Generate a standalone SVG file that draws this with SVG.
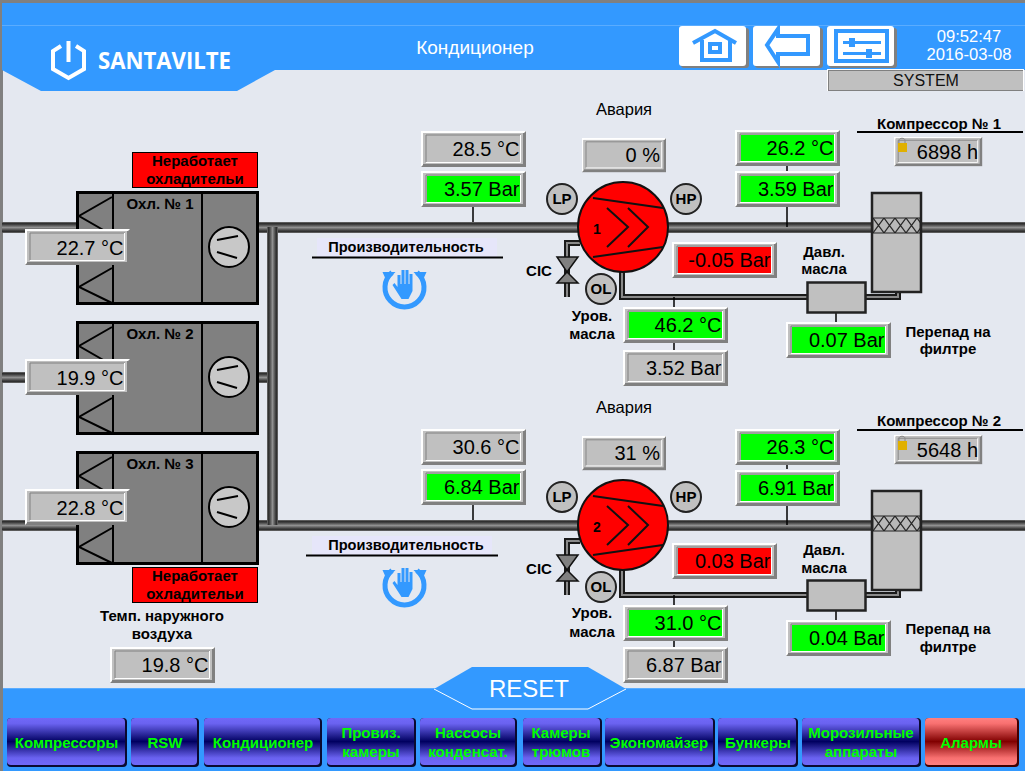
<svg xmlns="http://www.w3.org/2000/svg" xmlns:xlink="http://www.w3.org/1999/xlink" width="1025" height="771" viewBox="0 0 1025 771">
<style>
text{font-family:"Liberation Sans",Arial,sans-serif}
.v{font-size:20px;text-anchor:end;fill:#000}
.b{font-size:15px;font-weight:bold;text-anchor:middle;fill:#000}
.b2{font-size:14.600px}
.n{font-size:16.500px;text-anchor:middle;fill:#000}
.nav{font-size:15px;font-weight:bold;text-anchor:middle;fill:#00ff00}
.on{fill:#00ff00}.al{fill:#ff0000}
.blue{fill:#3399ff}
.ic{fill:none;stroke:#3399ff;stroke-width:4}
.oil{fill:none;stroke:#1a1a1a;stroke-width:6}
.oili{fill:none;stroke:#8a8a8a;stroke-width:2}
.stem{stroke:#000;stroke-width:1.500;fill:none}
.ln{stroke:#000;stroke-width:2;fill:none}
.gl{fill:#c0c0c0;stroke:#222;stroke-width:2}
.tank{fill:#c0c0c0;stroke:#222;stroke-width:2.500}
.bs{fill:#808080}.bw{fill:#fff}
.lk{fill:#e0b000}
.sh{fill:none;stroke:#888}
</style>
<defs>
<linearGradient id="pH" x1="0" y1="0" x2="0" y2="1"><stop offset="0" stop-color="#707070"/><stop offset=".15" stop-color="#2a2a2a"/><stop offset=".5" stop-color="#909090"/><stop offset=".85" stop-color="#2a2a2a"/><stop offset="1" stop-color="#707070"/></linearGradient>
<linearGradient id="pV" x1="0" y1="0" x2="1" y2="0"><stop offset="0" stop-color="#707070"/><stop offset=".15" stop-color="#2a2a2a"/><stop offset=".5" stop-color="#909090"/><stop offset=".85" stop-color="#2a2a2a"/><stop offset="1" stop-color="#707070"/></linearGradient>
<linearGradient id="nb" x1="0" y1="0" x2="0" y2="1"><stop offset="0" stop-color="#7068f8"/><stop offset=".12" stop-color="#6a62f0"/><stop offset=".5" stop-color="#000060"/><stop offset=".85" stop-color="#6a62f0"/><stop offset="1" stop-color="#7068f8"/></linearGradient>
<linearGradient id="nr" x1="0" y1="0" x2="0" y2="1"><stop offset="0" stop-color="#ff8080"/><stop offset=".12" stop-color="#f87070"/><stop offset=".5" stop-color="#800000"/><stop offset=".85" stop-color="#f87070"/><stop offset="1" stop-color="#ff8080"/></linearGradient>
<pattern id="mesh" width="11" height="14.900" patternUnits="userSpaceOnUse" x="4" y="9.400"><rect width="11" height="14.900" fill="#b8b8b8"/><path d="M0 0L11 14.900M11 0L0 14.900" stroke="#222" stroke-width="1.200"/></pattern>
<g id="vb">
<rect width="105" height="36" fill="#808080"/><path d="M0 36V0H105L103 2H2V34Z" fill="#fff"/><rect x="2" y="2" width="100" height="31" fill="#c0c0c0"/>
<path d="M5 31V4H100" fill="none" stroke="#808080"/><path d="M5 31.500H99.500V4" fill="none" stroke="#fff"/>
</g>
<g id="comp">
<circle r="45" fill="#ff0000" stroke="#111" stroke-width="2"/>
<path d="M-30-29L40-19M-30 30L40 20M-16-19L5 0L-16 20M5-19L25 0L5 20" fill="none" stroke="#111" stroke-width="2"/>
</g>
<g id="valve"><path d="M-10-15H11L0 0L11 11H-10L0 0Z" fill="#808080" stroke="#111" stroke-width="1.500"/></g>
<g id="coil">
<rect x="1.500" y="1.500" width="180" height="111" fill="#808080" stroke="#000" stroke-width="3"/>
<path d="M37 2V112M126 2V112M36 6L3 25L36 44M36 77L3 96L36 112" fill="none" stroke="#000" stroke-width="2"/>
<circle cx="153" cy="56" r="20" fill="#c8c8c8" stroke="#000" stroke-width="2"/>
<path d="M141 49L162 45M141 61L161 67" fill="none" stroke="#000" stroke-width="2"/>
</g>
<g id="hand">
<path d="M-12.500-14.500A19.500 19.500 0 1 0 12.500-14.500" fill="none" stroke="#3399ff" stroke-width="5"/>
<path d="M-22-15H-9L-18-6ZM22-15H9L18-6Z" fill="#3399ff"/>
<path d="M-7-12H-4V-3H-3V-17H0V-3H1V-17H4V-3H5V-13H8V4L4 12H-3L-12-2L-10-4L-7 0Z" fill="#3399ff"/>
</g>
</defs>

<rect width="1025" height="771" fill="#e4e8f0"/>
<path d="M0 0H1025V3H3V771H0Z" fill="#808080"/>

<g id="header">
<path class="blue" d="M2 3H1025V70H275L237 91H41L2 70Z"/>
<rect x="2" y="25" width="1023" height="1" fill="#5aacff"/>
<g id="logo">
<path d="M61 46L53 51V69L68.500 78L84 69V51L76 46" fill="none" stroke="#fff" stroke-width="4"/>
<path d="M68.500 41V62" stroke="#fff" stroke-width="4"/>
<text x="98" y="69" font-size="24" font-weight="700" fill="#fff" textLength="133" lengthAdjust="spacingAndGlyphs" style="font-family:'Open Sans',sans-serif">SANTAVILTE</text>
</g>
<text x="475" y="54" font-size="19" text-anchor="middle" fill="#fff">Кондиционер</text>
<text x="969" y="42" font-size="16.600" text-anchor="middle" fill="#fff">09:52:47</text>
<text x="969" y="60" font-size="16.600" text-anchor="middle" fill="#fff">2016-03-08</text>
</g>

<g id="btn-home"><rect x="681" y="28" width="68" height="40" rx="3" class="bs"/><rect x="679" y="26" width="67" height="40" rx="3" class="bw"/>
<path class="ic" d="M693 43L715 31L736 43M702 40V60H730V40"/><rect class="ic" x="710" y="44" width="10" height="8" stroke-width="3"/></g>
<g id="btn-back"><rect x="755" y="28" width="68" height="40" rx="3" class="bs"/><rect x="753" y="26" width="67" height="40" rx="3" class="bw"/>
<path class="ic" d="M778 29L767 45L778 62V54H808V36H778Z"/></g>
<g id="btn-set"><rect x="829" y="28" width="68" height="40" rx="3" class="bs"/><rect x="827" y="26" width="67" height="40" rx="3" class="bw"/>
<rect class="ic" x="836" y="31" width="51" height="30"/>
<path d="M843 42.500H881M843 53.500H881" stroke="#3399ff" stroke-width="3"/><rect class="blue" x="849" y="38" width="6" height="9"/><rect class="blue" x="866" y="49" width="6" height="9"/></g>
<g id="system"><rect x="827" y="69" width="197" height="22" fill="#fff"/><rect x="828" y="70" width="196" height="21" fill="#808080"/><rect x="829" y="71" width="194" height="19" fill="#c0c0c0"/><rect x="1023" y="70" width="1" height="21" fill="#fff"/><text x="926" y="86" font-size="16" text-anchor="middle" fill="#111">SYSTEM</text></g>

<g id="footer"><rect x="3" y="688" width="1022" height="83" class="blue"/>
<rect x="3" y="688" width="1022" height="1" fill="#5aacff"/></g>

<g id="connectors">
<g fill="url(#pH)">
<rect x="2" y="222" width="76" height="11"/><rect x="258" y="222" width="322" height="11"/><rect x="668" y="222" width="203" height="11"/><rect x="922" y="222" width="103" height="11"/>
<rect x="2" y="372" width="76" height="11"/><rect x="258" y="372" width="20" height="11"/>
<rect x="2" y="520" width="76" height="11"/><rect x="258" y="520" width="322" height="11"/><rect x="668" y="520" width="203" height="11"/><rect x="922" y="520" width="103" height="11"/>
</g>
<rect x="267" y="227" width="11" height="298" fill="url(#pV)"/>
<path class="oil" d="M580 243H567V297M622 270V297H807M866 297H898V292"/><path class="oili" d="M580 243H567V297M622 270V297H807M866 297H898V292"/>
<path class="oil" d="M580 541H567V595M622 568V595H807M866 595H898V590"/><path class="oili" d="M580 541H567V595M622 568V595H807M866 595H898V590"/>
<path class="stem" d="M473 207V222M787 207V227M787 166V171M674 297V307M674 343V350M836 313V322"/>
<path class="stem" d="M473 505V520M787 505V525M787 464V469M674 595V605M674 641V647M836 611V620"/>
</g>

<g id="cooler1" transform="translate(76,191)"><use href="#coil"/><text class="b" x="84" y="18">Охл. № 1</text></g>
<g id="cooler2" transform="translate(76,321)"><use href="#coil"/><text class="b" x="84" y="18">Охл. № 2</text></g>
<g id="cooler3" transform="translate(76,451)"><use href="#coil"/><text class="b" x="84" y="18">Охл. № 3</text></g>

<g id="alarm1"><rect x="132.500" y="152.500" width="125" height="35" class="al" stroke="#000"/><text class="b" x="195" y="166">Неработает</text><text class="b" x="195" y="184">охладительи</text></g>
<g id="alarm3"><rect x="132.500" y="567.500" width="125" height="35" class="al" stroke="#000"/><text class="b" x="195" y="581">Неработает</text><text class="b" x="195" y="599">охладительи</text></g>

<g id="comp1" transform="translate(623,227)"><use href="#comp"/><text x="-26" y="7" font-size="14" font-weight="bold" text-anchor="middle">1</text></g>
<g id="comp2" transform="translate(623,525)"><use href="#comp"/><text x="-26" y="7" font-size="14" font-weight="bold" text-anchor="middle">2</text></g>
<g id="valve1" transform="translate(567,272)"><use href="#valve"/></g>
<g id="valve2" transform="translate(567,570)"><use href="#valve"/></g>

<g id="sensors">
<g id="lp1"><circle class="gl" cx="562" cy="199" r="15"/><text class="b" x="562" y="204">LP</text></g>
<g id="hp1"><circle class="gl" cx="686" cy="199" r="15"/><text class="b" x="686" y="204">HP</text></g>
<g id="ol1"><circle class="gl" cx="601" cy="289" r="15"/><text class="b" x="601" y="294">OL</text></g>
<g id="lp2"><circle class="gl" cx="562" cy="497" r="15"/><text class="b" x="562" y="502">LP</text></g>
<g id="hp2"><circle class="gl" cx="686" cy="497" r="15"/><text class="b" x="686" y="502">HP</text></g>
<g id="ol2"><circle class="gl" cx="601" cy="587" r="15"/><text class="b" x="601" y="592">OL</text></g>
</g>

<g id="filter1"><rect class="tank" x="872" y="193" width="49" height="99"/><rect x="873" y="218" width="47" height="15" fill="url(#mesh)" stroke="#222"/></g>
<g id="filter2"><rect class="tank" x="872" y="491" width="49" height="99"/><rect x="873" y="516" width="47" height="15" fill="url(#mesh)" stroke="#222"/></g>
<g id="oilp1"><rect class="tank" x="807.500" y="282.500" width="58" height="30"/></g>
<g id="oilp2"><rect class="tank" x="807.500" y="580.500" width="58" height="30"/></g>

<g id="values">
<g id="v1" transform="translate(421,131)"><use href="#vb"/><text class="v" x="98.500" y="24.500">28.5 °C</text></g>
<g id="v2" transform="translate(421,171)"><use href="#vb"/><rect class="on" x="6" y="5" width="93" height="26"/><text class="v" x="98.500" y="24.500">3.57 Bar</text></g>
<g id="v3" transform="translate(735,130)"><use href="#vb"/><rect class="on" x="6" y="5" width="93" height="26"/><text class="v" x="98.500" y="24.500">26.2 °C</text></g>
<g id="v4" transform="translate(735,171)"><use href="#vb"/><rect class="on" x="6" y="5" width="93" height="26"/><text class="v" x="98.500" y="24.500">3.59 Bar</text></g>
<g id="v5" transform="translate(672,242)"><use href="#vb"/><rect class="al" x="6" y="5" width="93" height="26"/><text class="v" x="98.500" y="24.500">-0.05 Bar</text></g>
<g id="v6" transform="translate(623,307)"><use href="#vb"/><rect class="on" x="6" y="5" width="93" height="26"/><text class="v" x="98.500" y="24.500">46.2 °C</text></g>
<g id="v7" transform="translate(623,350)"><use href="#vb"/><text class="v" x="98.500" y="24.500">3.52 Bar</text></g>
<g id="v8" transform="translate(786,322)"><use href="#vb"/><rect class="on" x="6" y="5" width="93" height="26"/><text class="v" x="98.500" y="24.500">0.07 Bar</text></g>
<g id="v9" transform="translate(25,229)"><use href="#vb"/><text class="v" x="98.500" y="25.500">22.7 °C</text></g>
<g id="v10" transform="translate(25,359)"><use href="#vb"/><text class="v" x="98.500" y="25.500">19.9 °C</text></g>
<g id="v11" transform="translate(25,489)"><use href="#vb"/><text class="v" x="98.500" y="25.500">22.8 °C</text></g>
<g id="v12" transform="translate(421,429)"><use href="#vb"/><text class="v" x="98.500" y="24.500">30.6 °C</text></g>
<g id="v13" transform="translate(421,469)"><use href="#vb"/><rect class="on" x="6" y="5" width="93" height="26"/><text class="v" x="98.500" y="24.500">6.84 Bar</text></g>
<g id="v14" transform="translate(735,429)"><use href="#vb"/><rect class="on" x="6" y="5" width="93" height="26"/><text class="v" x="98.500" y="24.500">26.3 °C</text></g>
<g id="v15" transform="translate(735,470)"><use href="#vb"/><rect class="on" x="6" y="5" width="93" height="26"/><text class="v" x="98.500" y="24.500">6.91 Bar</text></g>
<g id="v16" transform="translate(672,543)"><use href="#vb"/><rect class="al" x="6" y="5" width="93" height="26"/><text class="v" x="98.500" y="24.500">0.03 Bar</text></g>
<g id="v17" transform="translate(623,605)"><use href="#vb"/><rect class="on" x="6" y="5" width="93" height="26"/><text class="v" x="98.500" y="24.500">31.0 °C</text></g>
<g id="v18" transform="translate(623,647)"><use href="#vb"/><text class="v" x="98.500" y="24.500">6.87 Bar</text></g>
<g id="v19" transform="translate(786,620)"><use href="#vb"/><rect class="on" x="6" y="5" width="93" height="26"/><text class="v" x="98.500" y="24.500">0.04 Bar</text></g>
<g id="v20" transform="translate(110,647)"><use href="#vb"/><text class="v" x="98.500" y="24.500">19.8 °C</text></g>
<g id="v21"><use href="#vb" transform="translate(582,138) scale(.8,.95)"/><text class="v" x="660" y="162">0 %</text></g>
<g id="v22"><use href="#vb" transform="translate(582,436) scale(.8,.95)"/><text class="v" x="660" y="460">31 %</text></g>
<g id="h1"><use href="#vb" transform="translate(894,137) scale(.84,.81)"/><text class="v" x="978" y="159">6898 h</text><path class="sh" d="M899 145V140.500C899 137.500 905 137.500 905 140.500V145"/><rect class="lk" x="898" y="143" width="9" height="9"/></g>
<g id="h2"><use href="#vb" transform="translate(894,435) scale(.84,.81)"/><text class="v" x="978" y="457">5648 h</text><path class="sh" d="M899 443V438.500C899 435.500 905 435.500 905 438.500V443"/><rect class="lk" x="898" y="441" width="9" height="9"/></g>
</g>

<g id="labels">
<text class="n" x="624" y="115">Авария</text><text class="n" x="624" y="413">Авария</text>
<text class="b" x="939" y="129">Компрессор № 1</text><path class="ln" d="M857 132H1023" stroke-width="1.500"/>
<text class="b" x="939" y="426">Компрессор № 2</text><path class="ln" d="M857 430H1023" stroke-width="1.500"/>
<rect x="317" y="238" width="180" height="19" fill="#e6e6fa"/><text class="b b2" x="406" y="252">Производительность</text><path class="ln" d="M312 257.500H503" stroke-width="1"/>
<rect x="312" y="536" width="180" height="19" fill="#e6e6fa"/><text class="b b2" x="406" y="550">Производительность</text><path class="ln" d="M306 555.500H498" stroke-width="1"/>
<text class="b" x="539" y="276">CIC</text><text class="b" x="539" y="574">CIC</text>
<text class="b" x="592" y="321">Уров.</text><text class="b" x="592" y="339">масла</text>
<text class="b" x="592" y="618">Уров.</text><text class="b" x="592" y="637">масла</text>
<text class="b" x="824" y="257">Давл.</text><text class="b" x="824" y="274">масла</text>
<text class="b" x="824" y="555">Давл.</text><text class="b" x="824" y="573">масла</text>
<text class="b" x="948" y="337">Перепад на</text><text class="b" x="948" y="354">филтре</text>
<text class="b" x="948" y="634">Перепад на</text><text class="b" x="948" y="652">филтре</text>
<text class="b" x="162" y="621">Темп. наружного</text><text class="b" x="162" y="639">воздуха</text>
</g>
<g id="hand1" transform="translate(404.500,287)"><use href="#hand"/></g>
<g id="hand2" transform="translate(404.500,585)"><use href="#hand"/></g>

<g id="reset"><path class="blue" d="M434 689L472 667H588L626 689L588 709H472Z"/><path d="M434 689L472 709H588L626 689" fill="none" stroke="#fff"/><text x="529" y="697" font-size="24" text-anchor="middle" fill="#fff">RESET</text></g>

<g id="nav">
<g id="n1"><rect x="7" y="718" width="120" height="49" rx="4" fill="#0a0a30"/><rect x="7" y="718" width="118" height="47" rx="4" fill="url(#nb)"/><text class="nav" x="66.500" y="748">Компрессоры</text></g>
<g id="n2"><rect x="131" y="718" width="68" height="49" rx="4" fill="#0a0a30"/><rect x="131" y="718" width="66" height="47" rx="4" fill="url(#nb)"/><text class="nav" x="165" y="748">RSW</text></g>
<g id="n3"><rect x="204" y="718" width="118" height="49" rx="4" fill="#0a0a30"/><rect x="204" y="718" width="116" height="47" rx="4" fill="url(#nb)"/><text class="nav" x="263" y="748">Кондиционер</text></g>
<g id="n4"><rect x="327" y="718" width="89" height="49" rx="4" fill="#0a0a30"/><rect x="327" y="718" width="87" height="47" rx="4" fill="url(#nb)"/><text class="nav" x="371" y="738">Провиз.</text><text class="nav" x="371" y="757">камеры</text></g>
<g id="n5"><rect x="420" y="718" width="97" height="49" rx="4" fill="#0a0a30"/><rect x="420" y="718" width="95" height="47" rx="4" fill="url(#nb)"/><text class="nav" x="468" y="738">Нассосы</text><text class="nav" x="468" y="757">конденсат.</text></g>
<g id="n6"><rect x="523" y="718" width="79" height="49" rx="4" fill="#0a0a30"/><rect x="523" y="718" width="77" height="47" rx="4" fill="url(#nb)"/><text class="nav" x="561" y="738">Камеры</text><text class="nav" x="561" y="757">трюмов</text></g>
<g id="n7"><rect x="605" y="718" width="110" height="49" rx="4" fill="#0a0a30"/><rect x="605" y="718" width="108" height="47" rx="4" fill="url(#nb)"/><text class="nav" x="659" y="748">Экономайзер</text></g>
<g id="n8"><rect x="718" y="718" width="80" height="49" rx="4" fill="#0a0a30"/><rect x="718" y="718" width="78" height="47" rx="4" fill="url(#nb)"/><text class="nav" x="758" y="748">Бункеры</text></g>
<g id="n9"><rect x="802" y="718" width="119" height="49" rx="4" fill="#0a0a30"/><rect x="802" y="718" width="117" height="47" rx="4" fill="url(#nb)"/><text class="nav" x="861" y="738">Морозильные</text><text class="nav" x="861" y="757">аппараты</text></g>
<g id="n10"><rect x="925" y="718" width="94" height="49" rx="4" fill="#400000"/><rect x="925" y="718" width="92" height="47" rx="4" fill="url(#nr)"/><text class="nav" x="971" y="748">Алармы</text></g>
</g>
</svg>
